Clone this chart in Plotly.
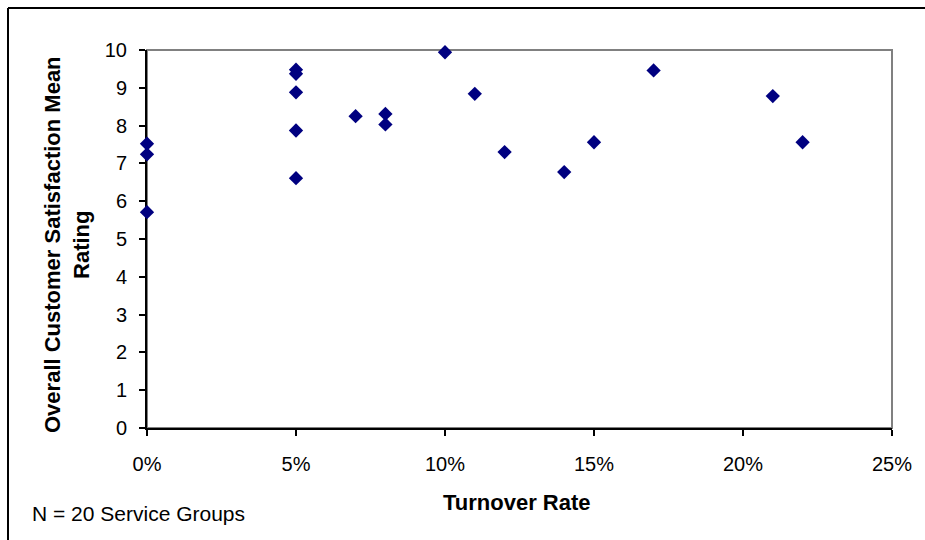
import plotly.graph_objects as go

# Turnover rate (fraction) and mean overall satisfaction rating per service group
turnover_rate = [0.00, 0.00, 0.00,
                 0.05, 0.05, 0.05, 0.05, 0.05,
                 0.07, 0.08, 0.08,
                 0.10, 0.11, 0.12, 0.14, 0.15, 0.17,
                 0.21, 0.22]
satisfaction = [7.52, 7.24, 5.71,
                9.48, 9.37, 8.88, 7.87, 6.61,
                8.25, 8.31, 8.03,
                9.94, 8.84, 7.30, 6.77, 7.56, 9.46,
                8.78, 7.56]

x_ticks = [0, 0.05, 0.10, 0.15, 0.20, 0.25]
y_ticks = list(range(0, 11))

W, H = 925, 540
L, R, T, B = 147, 33, 50, 112
pw, ph = W - L - R, H - T - B


def px_x(p):
    return (p - L) / pw


def px_y(p):
    return (H - B - p) / ph


FONT = "Liberation Sans, Arial, sans-serif"

fig = go.Figure()
fig.add_trace(go.Scatter(
    x=turnover_rate, y=satisfaction, mode="markers",
    marker=dict(symbol="diamond", size=11, color="#000080",
                line=dict(width=0)),
    cliponaxis=False, showlegend=False,
))

fig.update_layout(
    width=W, height=H,
    margin=dict(l=L, r=R, t=T, b=B, pad=0),
    paper_bgcolor="white", plot_bgcolor="white",
    font=dict(family=FONT, color="black"),
    xaxis=dict(
        range=[0, 0.25], tickvals=x_ticks, tickformat=".0%",
        showgrid=False, zeroline=False,
        showline=True, linecolor="black", linewidth=2,
        ticks="outside", ticklen=6, tickwidth=2, tickcolor="black",
        tickfont=dict(size=20), ticklabelstandoff=11,
        layer="below traces", fixedrange=True,
    ),
    yaxis=dict(
        range=[0, 10], tickvals=y_ticks,
        showgrid=False, zeroline=False,
        showline=True, linecolor="black", linewidth=2,
        ticks="outside", ticklen=6, tickwidth=2, tickcolor="black",
        tickfont=dict(size=20), ticklabelstandoff=8,
        layer="below traces", fixedrange=True,
    ),
    shapes=[
        # gray plot-area frame (top and right edges)
        dict(type="rect", xref="paper", yref="paper", x0=0, x1=1, y0=0, y1=1,
             line=dict(color="#808080", width=2), layer="below"),
        # outer chart border
        dict(type="line", xref="paper", yref="paper",
             x0=px_x(8), x1=px_x(8), y0=px_y(8), y1=px_y(600),
             line=dict(color="black", width=2)),
        dict(type="line", xref="paper", yref="paper",
             x0=px_x(8), x1=px_x(1000), y0=px_y(8), y1=px_y(8),
             line=dict(color="black", width=2)),
    ],
    annotations=[
        dict(text="<b>Overall Customer Satisfaction Mean<br>Rating</b>",
             xref="paper", yref="paper", x=px_x(67), y=px_y(245),
             xanchor="center", yanchor="middle", textangle=-90,
             showarrow=False, font=dict(size=22)),
        dict(text="<b>Turnover Rate</b>",
             xref="paper", yref="paper", x=px_x(517), y=px_y(502),
             xanchor="center", yanchor="middle",
             showarrow=False, font=dict(size=22)),
        dict(text="N = 20 Service Groups",
             xref="paper", yref="paper", x=px_x(30), y=px_y(513),
             xanchor="left", yanchor="middle",
             showarrow=False, font=dict(size=21)),
    ],
)

fig.write_html("out.html")
